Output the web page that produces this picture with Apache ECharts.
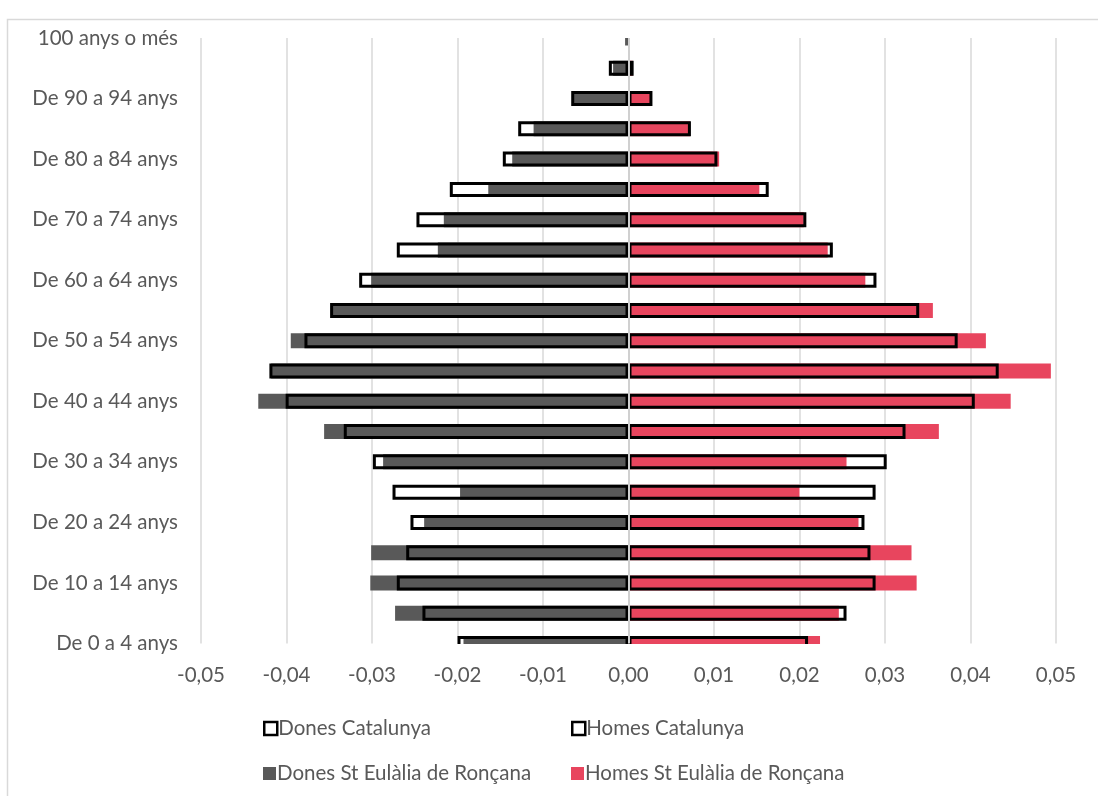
<!DOCTYPE html>
<html>
<head>
<meta charset="utf-8">
<script src="https://cdn.jsdelivr.net/npm/echarts@6/dist/echarts.min.js"></script>
<style>html,body{margin:0;padding:0;background:#fff;}#c{width:1098px;height:796px;}</style>
</head>
<body>
<div id="c"></div>
<script>
// Categories (bottom to top)
const categories = ["De 0 a 4 anys","De 5 a 9 anys","De 10 a 14 anys","De 15 a 19 anys","De 20 a 24 anys","De 25 a 29 anys","De 30 a 34 anys","De 35 a 39 anys","De 40 a 44 anys","De 45 a 49 anys","De 50 a 54 anys","De 55 a 59 anys","De 60 a 64 anys","De 65 a 69 anys","De 70 a 74 anys","De 75 a 79 anys","De 80 a 84 anys","De 85 a 89 anys","De 90 a 94 anys","De 95 a 99 anys","100 anys o més"];
const donesCatalunya = [-0.0200,-0.0241,-0.0271,-0.0260,-0.0255,-0.0276,-0.0299,-0.0333,-0.0401,-0.0420,-0.0379,-0.0349,-0.0315,-0.0271,-0.0248,-0.0209,-0.0147,-0.0129,-0.0067,-0.0023,null];
const homesCatalunya = [0.0210,0.0255,0.0289,0.0283,0.0276,0.0289,0.0302,0.0324,0.0405,0.0433,0.0385,0.0340,0.0290,0.0239,0.0208,0.0164,0.0104,0.0073,0.0028,0.0006,null];
const donesSEulalia = [-0.0193,-0.0273,-0.0302,-0.0301,-0.0239,-0.0197,-0.0287,-0.0356,-0.0433,-0.0418,-0.0395,-0.0346,-0.0301,-0.0223,-0.0216,-0.0164,-0.0136,-0.0111,-0.0066,-0.0018,-0.0004];
const homesSEulalia = [0.0224,0.0246,0.0337,0.0331,0.0269,0.0200,0.0255,0.0363,0.0447,0.0494,0.0418,0.0356,0.0277,0.0233,0.0205,0.0153,0.0106,0.0072,0.0027,0.0005,0];
const xMin = -0.05, xMax = 0.05, xStep = 0.01;

const FONT = 'Lato';
const FS = 20.5;
const TXT = '#595959';
const GREY = '#595959';
const RED = '#E8455E';
const BW = 15;

const chart = echarts.init(document.getElementById('c'), null, {renderer: 'canvas'});

function legendAt(name, left, top, iconStyle) {
  return {
    data: [{name: name, itemStyle: iconStyle}],
    left: left, top: top,
    itemWidth: 13, itemHeight: 13,
    icon: 'rect',
    selectedMode: false,
    textStyle: {fontFamily: FONT, fontSize: FS, color: TXT, padding: [0,0,0,-4]}
  };
}

const catIcon = {color: '#ffffff', borderColor: '#000000', borderWidth: 2.5};

chart.setOption({
  animation: false,
  backgroundColor: '#ffffff',
  graphic: [
    {type: 'rect', silent: true, z: 0,
     shape: {x: 7.5, y: 19.5, width: 1200, height: 1000},
     style: {fill: 'none', stroke: '#d9d9d9', lineWidth: 1.5}},
    // clip the half-rows that spill past the plot area (Excel-style)
    {type: 'rect', silent: true, z: 100,
     shape: {x: 190, y: 21, width: 880, height: 17},
     style: {fill: '#ffffff'}},
    {type: 'rect', silent: true, z: 100,
     shape: {x: 190, y: 644, width: 880, height: 14},
     style: {fill: '#ffffff'}}
  ],
  grid: {left: 201, right: 42, top: 38, bottom: 152.5, containLabel: false},
  xAxis: {
    type: 'value', min: xMin, max: xMax, interval: xStep,
    axisLine: {show: false}, axisTick: {show: false},
    splitLine: {show: true, lineStyle: {color: '#d9d9d9', width: 1.5}},
    axisLabel: {
      fontFamily: FONT, fontSize: FS, color: TXT, margin: 21,
      formatter: function (v) { const s = Math.abs(v) < 1e-9 ? '0.00' : v.toFixed(2); return s.replace('.', ','); }
    }
  },
  yAxis: {
    type: 'category', data: categories, boundaryGap: false,
    axisLine: {show: false}, axisTick: {show: false}, splitLine: {show: false},
    axisLabel: {interval: 1, fontFamily: FONT, fontSize: FS, color: TXT, margin: 23}
  },
  legend: [
    legendAt('Dones Catalunya', 258, 713, catIcon),
    legendAt('Homes Catalunya', 566, 713, catIcon),
    legendAt('Dones St Eulàlia de Ronçana', 258, 758, {color: GREY}),
    legendAt('Homes St Eulàlia de Ronçana', 566, 758, {color: RED})
  ],
  series: [
    {name: 'fonsDones', type: 'bar', data: donesCatalunya, barWidth: BW, barGap: '-100%', silent: true,
     itemStyle: {color: '#ffffff'}},
    {name: 'fonsHomes', type: 'bar', data: homesCatalunya, barWidth: BW, barGap: '-100%', silent: true,
     itemStyle: {color: '#ffffff'}},
    {name: 'Dones St Eulàlia de Ronçana', type: 'bar', data: donesSEulalia, barWidth: BW, barGap: '-100%',
     itemStyle: {color: GREY}},
    {name: 'Homes St Eulàlia de Ronçana', type: 'bar', data: homesSEulalia, barWidth: BW, barGap: '-100%',
     itemStyle: {color: RED}},
    {name: 'Dones Catalunya', type: 'bar', data: donesCatalunya, barWidth: BW, barGap: '-100%',
     itemStyle: {color: 'rgba(255,255,255,0)', borderColor: '#000000', borderWidth: 3}},
    {name: 'Homes Catalunya', type: 'bar', data: homesCatalunya, barWidth: BW, barGap: '-100%',
     itemStyle: {color: 'rgba(255,255,255,0)', borderColor: '#000000', borderWidth: 3},
     markLine: {silent: true, symbol: ['none','none'], label: {show: false},
       lineStyle: {color: '#d0d0d0', width: 2, type: 'solid'}, data: [{xAxis: 0}]}}
  ]
});
</script>
</body>
</html>
